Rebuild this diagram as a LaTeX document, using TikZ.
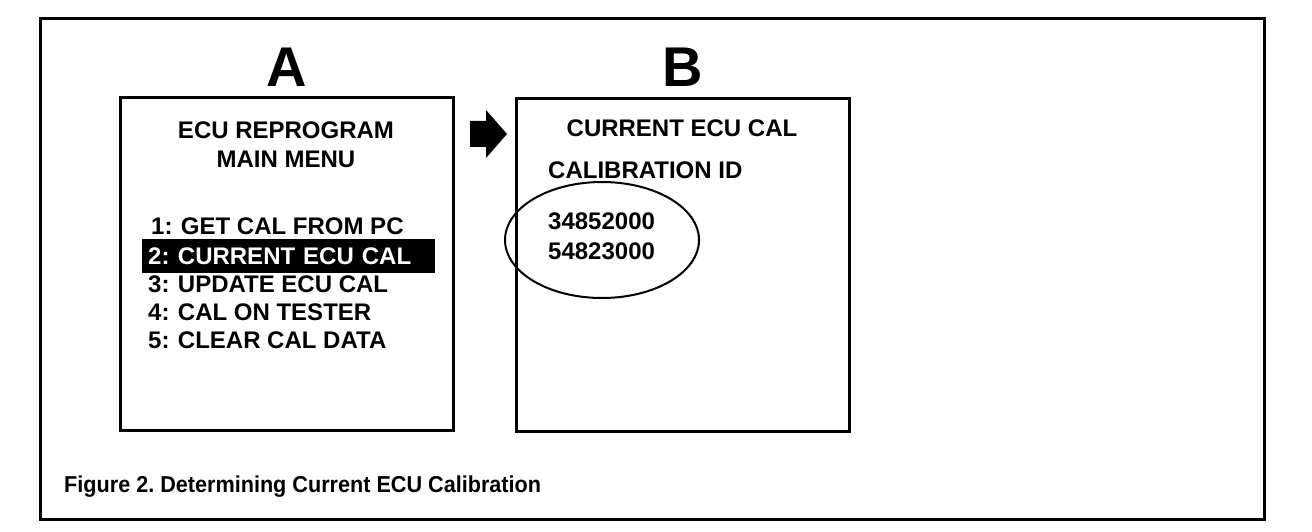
\documentclass[tikz,border=0pt]{standalone}
\usepackage{fontspec}
\setmainfont{Liberation Sans}
\newfontfamily\captfont[FakeStretch=0.94]{Liberation Sans}

\begin{document}
\frenchspacing
\begin{tikzpicture}[x=1pt,y=-1pt]
  \tikzstyle{screen}=[draw,line width=3pt,minimum width=333pt,minimum height=332pt]
  \tikzstyle{menu}=[font=\bfseries\fontsize{24}{28}\selectfont,inner sep=0pt]
  \tikzstyle{letter}=[font=\bfseries\fontsize{56}{60}\selectfont,inner sep=0pt]
  \useasboundingbox (0,0) rectangle (1312,532);
  \node[draw,line width=3pt,minimum width=1224pt,minimum height=500pt] (frame) at (652,269) {};

  \node[screen] (scrA) at (286.5,264) {};
  \node[letter] (A) at (287,67) {A};
  \node[menu] (title1) at (286,130) {ECU REPROGRAM};
  \node[menu] (title2) at (286,159) {MAIN MENU};
  \node[menu,anchor=west] (item1) at (151,226) {1:\hspace{0.35em}GET CAL FROM PC};
  \node[menu,anchor=west,fill=black,text=white,inner xsep=6pt,text width=281pt,minimum height=34pt] (item2) at (142,256) {2:\hspace{0.35em}CURRENT ECU CAL};
  \node[menu,anchor=west] (item3) at (148,284) {3:\hspace{0.35em}UPDATE ECU CAL};
  \node[menu,anchor=west] (item4) at (148,312) {4:\hspace{0.35em}CAL ON TESTER};
  \node[menu,anchor=west] (item5) at (148,340) {5:\hspace{0.35em}CLEAR CAL DATA};

  \fill (470,121) -- (486,121) -- (486,110) -- (507,134) -- (486,158) -- (486,147) -- (470,147) -- cycle;

  \node[screen] (scrB) at (682.5,265) {};
  \node[letter] (B) at (683,67) {B};
  \node[menu] (title3) at (682,128) {CURRENT ECU CAL};
  \node[menu,anchor=west] (calid) at (548,170) {CALIBRATION ID};
  \node[menu,anchor=west] (id1) at (548,221) {34852000};
  \node[menu,anchor=west] (id2) at (548,251) {54823000};
  \draw[line width=2pt] (602,240) ellipse [x radius=97,y radius=58];

  \node[font=\captfont\bfseries\fontsize{23}{26}\selectfont,inner sep=0pt,anchor=west] (caption) at (64,487) {Figure 2. Determining Current ECU Calibration};
\end{tikzpicture}
\end{document}
